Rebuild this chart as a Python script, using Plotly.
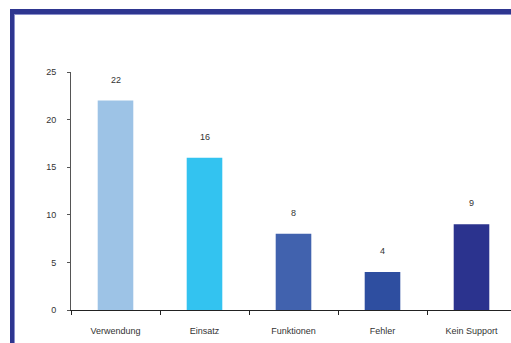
import plotly.graph_objects as go

categories = ["Verwendung", "Einsatz", "Funktionen", "Fehler", "Kein Support"]
values = [22, 16, 8, 4, 9]
bar_colors = ["#9DC3E6", "#33C3F0", "#4162AE", "#2E4EA0", "#2B338E"]
y_ticks = [0, 5, 10, 15, 20, 25]

W, H = 511, 343
L, R, T, B = 71, 0, 72, 33
pw, ph = W - L - R, H - T - B

def px(x):
    return (x - L) / pw

def py(y):
    return (H - B - y) / ph

fig = go.Figure(go.Bar(
    x=categories, y=values, marker_color=bar_colors, marker_line_width=0,
    width=0.40, hoverinfo="skip",
))

for c, v in zip(categories, values):
    fig.add_annotation(x=c, y=v, text=str(v), showarrow=False, yshift=21,
                       font=dict(size=9, color="#333333", family="Liberation Sans"))

dark = "#2E3690"
light = "#8A8FCB"
shapes = [
    dict(type="rect", xref="paper", yref="paper", x0=px(10), x1=px(511), y0=py(9), y1=py(14),
         fillcolor=dark, line_width=0, layer="above"),
    dict(type="rect", xref="paper", yref="paper", x0=px(14), x1=px(511), y0=py(14), y1=py(15),
         fillcolor=light, line_width=0, layer="above"),
    dict(type="rect", xref="paper", yref="paper", x0=px(10), x1=px(14), y0=py(9), y1=py(343),
         fillcolor=dark, line_width=0, layer="above"),
    dict(type="rect", xref="paper", yref="paper", x0=px(14), x1=px(15), y0=py(14), y1=py(343),
         fillcolor=light, line_width=0, layer="above"),
]

fig.update_layout(
    width=W, height=H,
    margin=dict(l=L, r=R, t=T, b=B, pad=0),
    paper_bgcolor="white", plot_bgcolor="white",
    showlegend=False, shapes=shapes,
    font=dict(family="Liberation Sans", size=9, color="#333333"),
    bargap=0.6,
)
fig.update_xaxes(
    range=[-0.5, -0.5 + pw / 89.0], showgrid=False, showline=True, linecolor="#222222", linewidth=1,
    ticks="outside", tickson="boundaries", ticklen=4, tickcolor="#222222",
    ticklabelstandoff=12, tickfont=dict(size=9, color="#333333"), fixedrange=True,
)
fig.update_yaxes(
    range=[0, 25], tickvals=y_ticks, showgrid=False, zeroline=False,
    showline=True, linecolor="#555555", linewidth=1,
    ticks="outside", ticklen=3, tickcolor="#555555",
    ticklabelstandoff=9, tickfont=dict(size=9, color="#333333"), fixedrange=True,
)

fig.write_html("out.html", config={"displayModeBar": False},
               post_script="document.body.style.margin='0px';document.body.style.overflow='hidden';")
